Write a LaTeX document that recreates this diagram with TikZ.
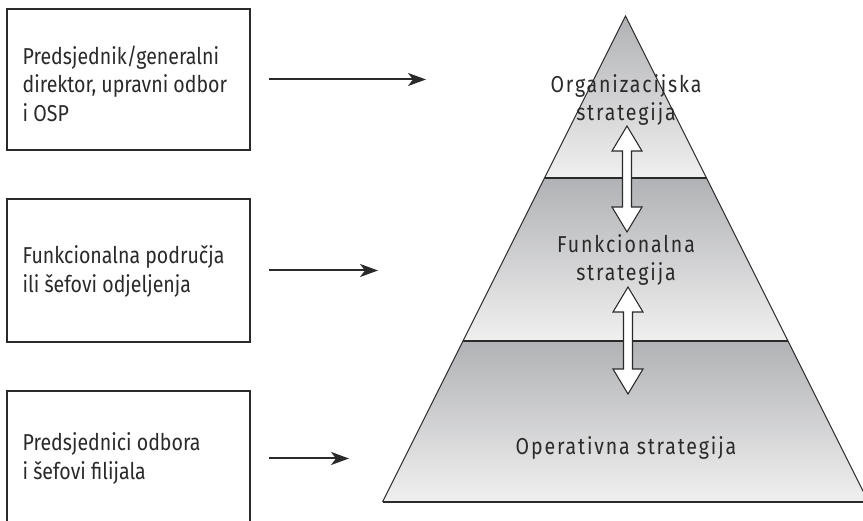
\documentclass[tikz,border=0pt]{standalone}
\usepackage{fontspec}
\setmainfont{Fira Sans}[FakeStretch=0.85]
\newfontfamily\levelsans{Fira Sans}[FakeStretch=0.85, LetterSpace=8]
\usetikzlibrary{arrows.meta}
\definecolor{bandtop}{HTML}{B1B2B5}
\definecolor{bandbot}{HTML}{F0F0F0}
\definecolor{ink}{HTML}{2A2A2A}
\tikzset{
  rolebox/.style={draw=ink, line width=1.1pt, minimum width=243pt, inner sep=0pt},
  roletext/.style={anchor=west, align=left, inner sep=0pt, text=ink,
    font=\fontsize{23}{28.5}\selectfont},
  levellabel/.style={align=center, text=ink, inner sep=0pt,
    font=\levelsans\fontsize{23}{28.5}\selectfont},
  feed/.style={draw=ink, line width=2pt, -{Stealth[length=18pt,width=13pt,inset=5pt]}},
  band/.style={top color=bandtop, bottom color=bandbot, draw=none},
  edge/.style={draw=ink, line width=1.1pt},
  divider/.style={draw=ink, line width=1.8pt},
  linkarrow/.style={draw=ink, line width=1.1pt, fill=white, line join=miter}
}
\begin{document}
\begin{tikzpicture}[x=1pt, y=-1pt]
\useasboundingbox (0,0) rectangle (863,521);
\clip (0,0) rectangle (863,521);
\fill[white] (0,0) rectangle (863,521);

% pyramid bands
\coordinate (apex) at (625.5,16);
\coordinate (l1) at (544.5,178); \coordinate (r1) at (706.5,178);
\coordinate (l2) at (463,341);   \coordinate (r2) at (788,341);
\coordinate (l3) at (382.5,502); \coordinate (r3) at (868.5,502);
\shade[band] (apex) -- (r1) -- (l1) -- cycle;
\shade[band] (l1) -- (r1) -- (r2) -- (l2) -- cycle;
\shade[band] (l2) -- (r2) -- (r3) -- (l3) -- cycle;
\draw[edge] (l3) -- (apex) -- (r3);
\draw[divider] (l1) -- (r1);
\draw[divider] (l2) -- (r2);
\draw[divider] (l3) -- (r3);

% level labels
\node[levellabel] (org) at (626,100) {Organizacijska\\strategija};
\node[levellabel] (fun) at (626,260) {Funkcionalna\\strategija};
\node[levellabel] (ops) at (626,448) {Operativna strategija};

% two-way arrows between levels
\draw[linkarrow] (627,126) -- (642,151) -- (631.5,151) -- (631.5,207) -- (642,207)
  -- (627,232) -- (612,207) -- (622.5,207) -- (622.5,151) -- (612,151) -- cycle;
\draw[linkarrow] (628,287) -- (643,312) -- (632.5,312) -- (632.5,369) -- (643,369)
  -- (628,394) -- (613,369) -- (623.5,369) -- (623.5,312) -- (613,312) -- cycle;

% management levels
\node[rolebox, minimum height=141pt] (ceo) at (128.5,79.5) {};
\node[rolebox, minimum height=143pt] (heads) at (128.5,270.5) {};
\node[rolebox, minimum height=139pt] (branch) at (128.5,460.5) {};
\node[roletext] (ceo-text) at ([xshift=16pt, yshift=-4pt]ceo.west)
  {Predsjednik/generalni\\direktor, upravni odbor\\i OSP};
\node[roletext] (heads-text) at ([xshift=16pt, yshift=-1pt]heads.west)
  {Funkcionalna područja\\ili šefovi odjeljenja};
\node[roletext] (branch-text) at ([xshift=16pt, yshift=2pt]branch.west)
  {Predsjednici odbora\\i šefovi filijala};

\coordinate (t1) at (426,79.5);
\coordinate (t2) at (378,270.5);
\coordinate (t3) at (349,458.5);
\draw[feed, shorten <=18pt] (ceo.east) -- (t1);
\draw[feed, shorten <=18pt] (heads.east) -- (t2);
\draw[feed, shorten <=18pt] (branch.east |- t3) -- (t3);
\end{tikzpicture}
\end{document}
